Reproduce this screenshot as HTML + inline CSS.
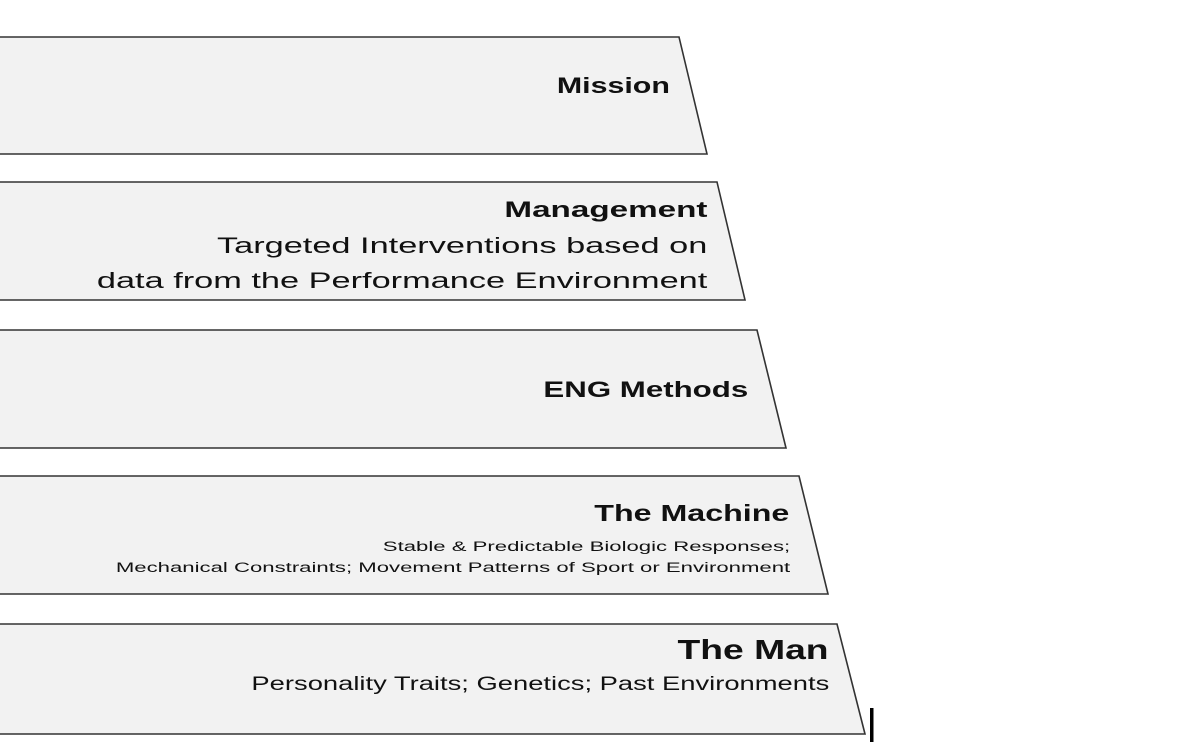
<!DOCTYPE html>
<html><head><style>
body{margin:0;width:1190px;height:754px;background:#fff;position:relative;overflow:hidden;font-family:"Liberation Sans",sans-serif;}
svg{position:absolute;left:0;top:0}
.t{position:absolute;text-align:right;color:#111;white-space:nowrap;line-height:1;transform-origin:right center}
b{font-weight:700}
</style></head><body>
<svg width="1190" height="754">
<g fill="#f2f2f2" stroke="#333" stroke-width="1.6">
<polygon points="-5,37 679,37 707,154 -5,154"/>
<polygon points="-5,182 717,182 745,300 -5,300"/>
<polygon points="-5,330 757,330 786,448 -5,448"/>
<polygon points="-5,476 799,476 828,594 -5,594"/>
<polygon points="-5,624 837,624 865,734 -5,734"/>
</g>
<rect x="870" y="708" width="3.5" height="34" fill="#000"/>
</svg>
<div class="t" style="right:520px;top:75px;font-size:22px;transform:scaleX(1.38)"><b>Mission</b></div>
<div class="t" style="right:483px;top:199px;font-size:22px;transform:scaleX(1.51)"><b>Management</b></div>
<div class="t" style="right:483px;top:228px;font-size:22px;line-height:35px;transform:scaleX(1.56)">Targeted Interventions based on<br>data from the Performance Environment</div>
<div class="t" style="right:442px;top:379px;font-size:22px;transform:scaleX(1.42)"><b>ENG Methods</b></div>
<div class="t" style="right:401px;top:502px;font-size:23px;transform:scaleX(1.40)"><b>The Machine</b></div>
<div class="t" style="right:400px;top:536px;font-size:13.5px;line-height:21px;transform:scaleX(1.64)">Stable &amp; Predictable Biologic Responses;<br>Mechanical Constraints; Movement Patterns of Sport or Environment</div>
<div class="t" style="right:361px;top:636px;font-size:28px;transform:scaleX(1.33)"><b>The Man</b></div>
<div class="t" style="right:361px;top:675px;font-size:19px;transform:scaleX(1.44)">Personality Traits; Genetics; Past Environments</div>
</body></html>
